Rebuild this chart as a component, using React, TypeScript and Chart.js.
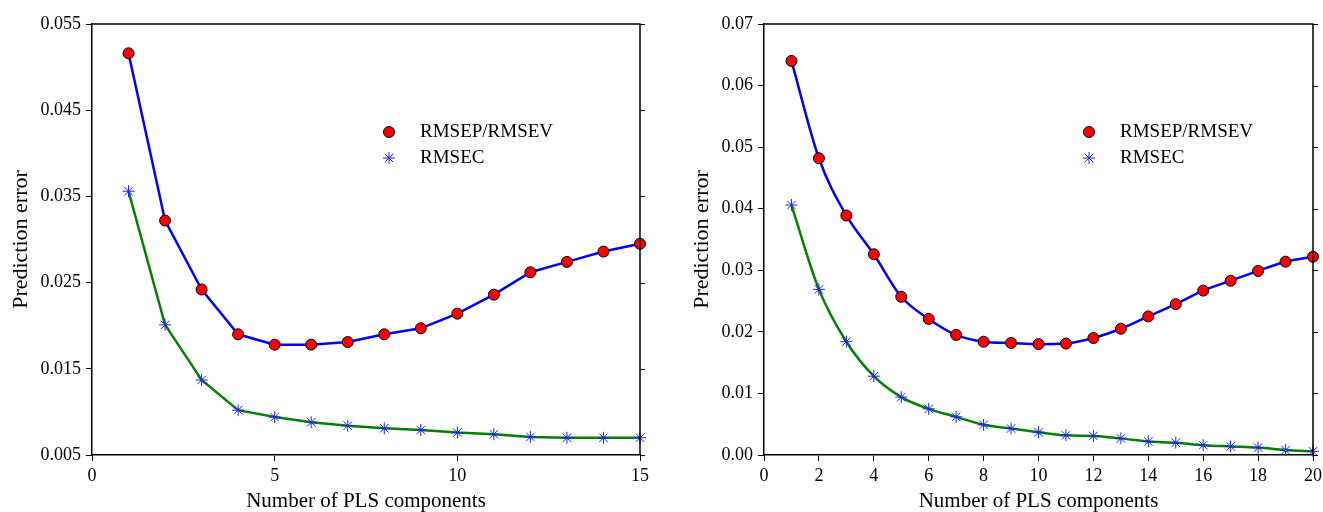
import React, { useEffect, useRef } from "react";
import { Chart, registerables } from "chart.js";

Chart.register(...registerables);

// ---------- Data ----------
const leftComponents = [1, 2, 3, 4, 5, 6, 7, 8, 9, 10, 11, 12, 13, 14, 15];
const leftRMSEP = [0.0516, 0.0322, 0.0242, 0.019, 0.0178, 0.0178, 0.0181, 0.019, 0.0197, 0.0214, 0.0236, 0.0262, 0.0274, 0.0286, 0.0295];
const leftRMSEC = [0.0356, 0.0201, 0.0137, 0.0102, 0.0094, 0.0088, 0.0084, 0.0081, 0.0079, 0.0076, 0.0074, 0.0071, 0.007, 0.007, 0.007];
const leftXTicks = [0, 5, 10, 15];
const leftYTicks = [0.005, 0.015, 0.025, 0.035, 0.045, 0.055];

const rightComponents = [1, 2, 3, 4, 5, 6, 7, 8, 9, 10, 11, 12, 13, 14, 15, 16, 17, 18, 19, 20];
const rightRMSEP = [0.064, 0.0482, 0.0389, 0.0326, 0.0257, 0.0221, 0.0195, 0.0184, 0.0182, 0.018, 0.0181, 0.019, 0.0205, 0.0225, 0.0245, 0.0267, 0.0283, 0.0299, 0.0314, 0.0322];
const rightRMSEC = [0.0406, 0.0269, 0.0184, 0.0128, 0.0094, 0.0075, 0.0062, 0.0049, 0.0043, 0.0037, 0.0032, 0.0031, 0.0027, 0.0022, 0.002, 0.0016, 0.0014, 0.0012, 0.0008, 0.0006];
const rightXTicks = [0, 2, 4, 6, 8, 10, 12, 14, 16, 18, 20];
const rightYTicks = [0, 0.01, 0.02, 0.03, 0.04, 0.05, 0.06, 0.07];

const seriesNames = ["RMSEP/RMSEV", "RMSEC"];
const xTitle = "Number of PLS components";
const yTitle = "Prediction error";

const FONT = "'Liberation Serif', 'Times New Roman', serif";

// ---------- Plugins ----------
const framePlugin = {
  id: "frame",
  afterDraw(chart: any) {
    const { ctx, chartArea } = chart;
    const { left, right, top, bottom } = chartArea;
    ctx.save();
    ctx.strokeStyle = "#000";
    ctx.lineWidth = 1.5;
    ctx.beginPath();
    ctx.moveTo(left, top);
    ctx.lineTo(right, top);
    ctx.lineTo(right, bottom);
    ctx.stroke();
    ctx.lineWidth = 1;
    const ys = chart.scales.y;
    ys.ticks.forEach((t: any) => {
      const py = Math.round(ys.getPixelForValue(t.value)) + 0.5;
      ctx.beginPath();
      ctx.moveTo(right, py);
      ctx.lineTo(right + 5, py);
      ctx.stroke();
    });
    ctx.restore();
  },
};

const legendPlugin = {
  id: "insideLegend",
  afterDraw(chart: any, _args: any, opts: any) {
    const { ctx } = chart;
    const x = opts.x;
    const y = opts.y;
    const gap = 26;
    ctx.save();
    // circle
    ctx.beginPath();
    ctx.arc(x, y, 5.5, 0, Math.PI * 2);
    ctx.fillStyle = "#ff0000";
    ctx.fill();
    ctx.lineWidth = 1;
    ctx.strokeStyle = "#000";
    ctx.stroke();
    // asterisk
    const y2 = y + gap;
    const r = 6;
    ctx.strokeStyle = "#2020ff";
    ctx.lineWidth = 1;
    ctx.beginPath();
    ctx.moveTo(x - r, y2);
    ctx.lineTo(x + r, y2);
    ctx.moveTo(x, y2 - r);
    ctx.lineTo(x, y2 + r);
    const d = r * Math.SQRT1_2;
    ctx.moveTo(x - d, y2 - d);
    ctx.lineTo(x + d, y2 + d);
    ctx.moveTo(x - d, y2 + d);
    ctx.lineTo(x + d, y2 - d);
    ctx.stroke();
    ctx.fillStyle = "#000";
    ctx.font = `19px ${FONT}`;
    ctx.textBaseline = "middle";
    ctx.textAlign = "left";
    ctx.fillText(seriesNames[0], x + 31, y);
    ctx.fillText(seriesNames[1], x + 31, y2);
    ctx.restore();
  },
};

// ---------- Chart builder ----------
function buildConfig(p: {
  xs: number[];
  sep: number[];
  sec: number[];
  xTicks: number[];
  yTicks: number[];
  xMax: number;
  yMin: number;
  yMax: number;
  decimals: number;
  tension: number;
  yWidth: number;
  padLeft: number;
  padRight: number;
  titlePadTop: number;
  legendX: number;
}) {
  return {
    type: "line",
    data: {
      datasets: [
        {
          label: seriesNames[0],
          data: p.xs.map((x, i) => ({ x, y: p.sep[i] })),
          borderColor: "#0000ff",
          borderWidth: 2.5,
          pointStyle: "circle",
          pointRadius: 5.5,
          pointBackgroundColor: "#ff0000",
          pointBorderColor: "#000",
          pointBorderWidth: 1,
          tension: p.tension,
          cubicInterpolationMode: p.tension > 0 ? "monotone" : "default",
          order: 1,
        },
        {
          label: seriesNames[1],
          data: p.xs.map((x, i) => ({ x, y: p.sec[i] })),
          borderColor: "#008000",
          borderWidth: 2.5,
          pointStyle: "star",
          pointRadius: 6,
          pointBackgroundColor: "#2020ff",
          pointBorderColor: "#2020ff",
          pointBorderWidth: 1,
          tension: p.tension,
          cubicInterpolationMode: p.tension > 0 ? "monotone" : "default",
          order: 2,
        },
      ],
    },
    options: {
      animation: false,
      responsive: false,
      events: [],
      clip: false,
      layout: { padding: { left: p.padLeft, right: p.padRight, top: 24, bottom: 0 } },
      plugins: {
        legend: { display: false },
        tooltip: { enabled: false },
        insideLegend: { x: p.legendX, y: 132 },
      },
      scales: {
        x: {
          type: "linear",
          min: 0,
          max: p.xMax,
          afterBuildTicks: (s: any) => {
            s.ticks = p.xTicks.map((v) => ({ value: v }));
          },
          afterFit: (s: any) => {
            s.height = 57;
            s.paddingRight = 0;
          },
          ticks: {
            color: "#000",
            font: { family: FONT, size: 18 },
            padding: 4,
            maxRotation: 0,
            autoSkip: false,
            callback: (v: any) => String(v),
          },
          grid: {
            drawOnChartArea: false,
            drawTicks: true,
            tickLength: 6,
            color: "#000",
            lineWidth: 1,
          },
          border: { display: true, color: "#000", width: 1.5 },
          title: {
            display: true,
            text: xTitle,
            color: "#000",
            font: { family: FONT, size: 21, lineHeight: 1.0 },
            padding: { top: 0, bottom: 0 },
          },
        },
        y: {
          type: "linear",
          min: p.yMin,
          max: p.yMax,
          afterBuildTicks: (s: any) => {
            s.ticks = p.yTicks.map((v) => ({ value: v }));
          },
          afterFit: (s: any) => {
            s.width = p.yWidth;
          },
          ticks: {
            color: "#000",
            font: { family: FONT, size: 18 },
            padding: 5,
            autoSkip: false,
            callback: (v: any) => Number(v).toFixed(p.decimals),
          },
          grid: {
            drawOnChartArea: false,
            drawTicks: true,
            tickLength: 6,
            color: "#000",
            lineWidth: 1,
          },
          border: { display: true, color: "#000", width: 1.5 },
          title: {
            display: true,
            text: yTitle,
            color: "#000",
            font: { family: FONT, size: 22 },
            padding: { top: p.titlePadTop, bottom: 0 },
          },
        },
      },
    },
    plugins: [framePlugin, legendPlugin],
  } as any;
}

export default function App() {
  const leftRef = useRef<HTMLCanvasElement>(null);
  const rightRef = useRef<HTMLCanvasElement>(null);

  useEffect(() => {
    const c1 = new Chart(
      leftRef.current!,
      buildConfig({
        xs: leftComponents,
        sep: leftRMSEP,
        sec: leftRMSEC,
        xTicks: leftXTicks,
        yTicks: leftYTicks,
        xMax: 15,
        yMin: 0.005,
        yMax: 0.055,
        decimals: 3,
        tension: 0,
        yWidth: 92,
        padLeft: 0,
        padRight: 21,
        titlePadTop: 8,
        legendX: 389,
      })
    );
    const c2 = new Chart(
      rightRef.current!,
      buildConfig({
        xs: rightComponents,
        sep: rightRMSEP,
        sec: rightRMSEC,
        xTicks: rightXTicks,
        yTicks: rightYTicks,
        xMax: 20,
        yMin: 0,
        yMax: 0.07,
        decimals: 2,
        tension: 0.4,
        yWidth: 83,
        padLeft: 20,
        padRight: 10,
        titlePadTop: 8,
        legendX: 1089 - 661,
      })
    );
    return () => {
      c1.destroy();
      c2.destroy();
    };
  }, []);

  return (
    <div style={{ position: "absolute", left: 0, top: 0, width: 1323, height: 512, background: "#fff" }}>
      <canvas ref={leftRef} width={661} height={512} style={{ position: "absolute", left: 0, top: 0 }} />
      <canvas ref={rightRef} width={662} height={512} style={{ position: "absolute", left: 661, top: 0 }} />
    </div>
  );
}
